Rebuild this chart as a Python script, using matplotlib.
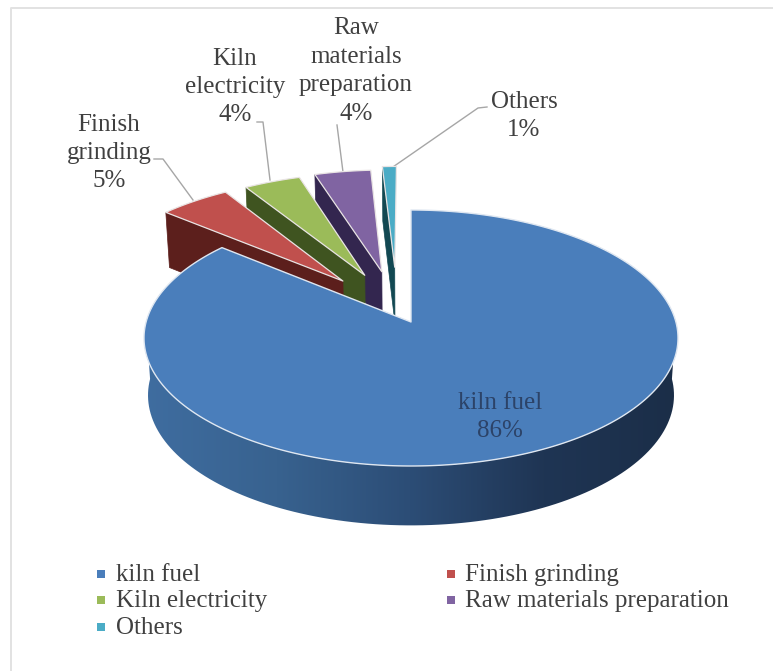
import numpy as np
import matplotlib
matplotlib.use("Agg")
import matplotlib.pyplot as plt
from matplotlib.colors import LinearSegmentedColormap
from matplotlib.patches import PathPatch, Polygon
from matplotlib.path import Path

# Share of energy use by process step (percent)
categories = ["kiln fuel", "Finish grinding", "Kiln electricity",
              "Raw materials preparation", "Others"]
shares = [86, 5, 4, 4, 1]

top_colors = ["#4a7ebb", "#c0504d", "#9bbb59", "#8064a2", "#4bacc6"]
wall_colors = [None, "#5c1f1c", "#3f5420", "#33264f", "#124852"]
text_color = "#404040"
serif = ["Liberation Serif", "DejaVu Serif"]

# Pull-out of each slice on the pie's ground plane (in radii)
pull_out = [(0.0, 0.0), (-0.268, 0.339), (-0.183, 0.389), (-0.116, 0.42), (-0.065, 0.46)]

# Perspective camera for the tilted pie
CX, CY = 411.0, 322.0
SCALE_X, SCALE_Y = 264.9, 126.0
TILT = 0.125
DEPTH = 57.0


def project(x, y, bottom=False):
    w = 1 + TILT * y
    if bottom:
        return CX + 0.985 * SCALE_X * x / w, CY + (DEPTH - 0.96 * SCALE_Y * y) / w
    return CX + SCALE_X * x / w, CY - SCALE_Y * y / w


def slice_points(start, stop, offset, bottom=False, n=120):
    t = np.radians(np.linspace(start, stop, n))
    return project(offset[0] + np.cos(t), offset[1] + np.sin(t), bottom)


fig = plt.figure(figsize=(7.73, 6.71), dpi=100)
ax = fig.add_axes([0, 0, 1, 1])
ax.set_xlim(0, 773)
ax.set_ylim(671, 0)
ax.axis("off")

# Thin frame of the chart area
ax.plot([10.5, 10.5, 773], [671, 7.5, 7.5], color="#e2e2e2", lw=1.4, zorder=0)

# Slice angles run clockwise from twelve o'clock
edges = 90 - 3.6 * np.cumsum([0] + shares)

# Small slices back to front, so each one overlaps the wall of its neighbour
for i in range(len(shares) - 1, 0, -1):
    stop, start = edges[i], edges[i + 1]
    off = pull_out[i]
    apex_top = project(off[0], off[1])
    apex_bot = project(off[0], off[1], True)
    ux, uy = off[0] + np.cos(np.radians(stop)), off[1] + np.sin(np.radians(stop))
    rim_top = project(ux, uy)
    rim_bot = project(ux, uy, True)
    ax.add_patch(Polygon([rim_top, apex_top, apex_bot, rim_bot],
                         fc=wall_colors[i], ec=wall_colors[i], lw=0.5, zorder=2))
    sx, sy = slice_points(start, stop, off)
    ax.add_patch(Polygon(np.r_[[apex_top], np.c_[sx, sy]], fc=top_colors[i],
                         ec="#e9e4e4", lw=0.9, joinstyle="round", zorder=2))

# Side wall of the large slice with its left-to-right shading
tx, ty = slice_points(180, 360, (0, 0))
bx, by = slice_points(360, 180, (0, 0), True)
wall_path = Path(np.r_[np.c_[tx, ty], np.c_[bx, by], [[tx[0], ty[0]]]], closed=True)
shade = LinearSegmentedColormap.from_list("side", ["#3f6da0", "#38628f", "#2c4d76", "#1f3554", "#1b2e48"])
img = ax.imshow(np.linspace(0, 1, 256)[None, :], cmap=shade, aspect="auto",
                extent=(143, 677, 535, 330), zorder=4)
clip = PathPatch(wall_path, transform=ax.transData, fc="none", ec="none")
ax.add_patch(clip)
img.set_clip_path(clip)
ax.set_xlim(0, 773)
ax.set_ylim(671, 0)

# Top face of the large slice
bx2, by2 = slice_points(edges[0], edges[1], pull_out[0], n=400)
ax.add_patch(Polygon(np.r_[[[CX, CY]], np.c_[bx2, by2]], fc=top_colors[0], ec="#dfe7f1",
                     lw=1.0, joinstyle="round", zorder=5))

# Data labels (category and percentage)
label_style = dict(family=serif, fontsize=18, color=text_color, ha="center", va="center",
                   linespacing=1.38, zorder=7)
ax.text(500, 417, f"{categories[0]}\n{shares[0]}%", **{**label_style, "color": "#2c4368"})
ax.text(109, 153, f"Finish\ngrinding\n{shares[1]}%", **label_style)
ax.text(235, 87, f"Kiln\nelectricity\n{shares[2]}%", **label_style)
ax.text(356, 71, f"Raw\nmaterials\npreparation\n{shares[3]}%", **label_style)
ax.text(524, 116, f"{categories[4]}\n{shares[4]}%", **label_style)

# Leader lines from labels to slices
leaders = [[(154, 159), (163, 159), (193, 200)],
           [(257, 122), (263, 122), (270, 180)],
           [(337, 125), (343, 172)],
           [(487, 107), (478, 108), (390, 169)]]
for pts in leaders:
    xs, ys = zip(*pts)
    ax.plot(xs, ys, color="#a6a6a6", lw=1.0, zorder=1)

# Legend laid out in two columns
legend_slots = [(101, 574), (451, 574), (101, 600), (451, 600), (101, 627)]
for name, color, (lx, ly) in zip(categories, top_colors, legend_slots):
    ax.scatter([lx], [ly], marker="s", s=28, color=color, linewidths=0, zorder=6)
    ax.text(lx + 15 if lx < 300 else lx + 14, ly + 1, name, family=serif, fontsize=18,
            color=text_color, ha="left", va="center")

fig.savefig("out.png", dpi=100, facecolor="white")
